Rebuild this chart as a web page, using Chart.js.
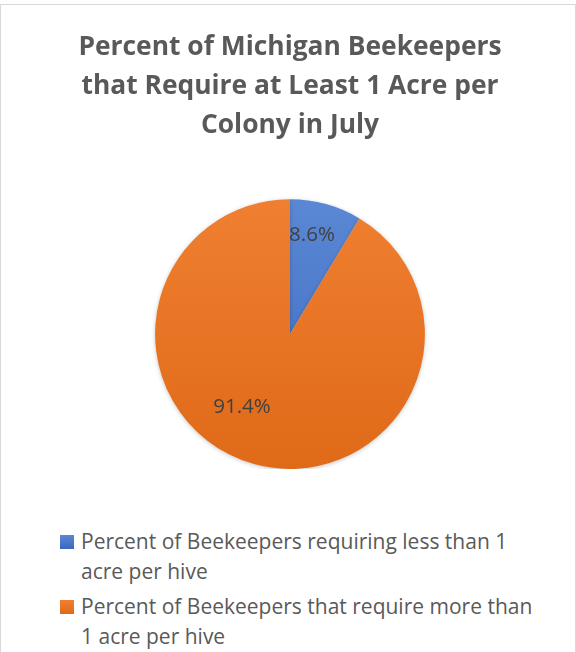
<!DOCTYPE html>
<html>
<head>
<meta charset="utf-8">
<script src="https://cdn.jsdelivr.net/npm/chart.js@4/dist/chart.umd.min.js"></script>
<style>
  html, body { margin: 0; padding: 0; background: #fff; }
  body { width: 576px; height: 652px; position: relative; overflow: hidden; font-family: "Open Sans", sans-serif; }
  .frame { position: absolute; left: 0; top: 4px; width: 576px; height: 660px; box-sizing: border-box; border: 1px solid #d9d9d9; }
  .chart-box { position: absolute; left: 0; top: 0; width: 576px; height: 469px; }
  #legend { position: absolute; left: 60px; top: 526px; width: 500px; }
  .lg-item { position: relative; padding-left: 21px; width: 452px; font-size: 21px; line-height: 30px; color: #595959; margin-bottom: 5px; }
  .lg-box { position: absolute; left: 0; top: 9px; width: 14px; height: 14px; }
</style>
</head>
<body>
<div class="frame"></div>
<div class="chart-box"><canvas id="pie"></canvas></div>
<div id="legend"></div>
<script>
  const titleLines = ['Percent of Michigan Beekeepers', 'that Require at Least 1 Acre per', 'Colony in July'];
  const categories = [
    'Percent of Beekeepers requiring less than 1 acre per hive',
    'Percent of Beekeepers that require more than 1 acre per hive'
  ];
  const values = [8.6, 91.4];
  const valueLabels = ['8.6%', '91.4%'];

  // top / bottom shades, Office style gradient
  const sliceColors = [['#5b88d4', '#3b68be'], ['#f07f31', '#df6a18']];
  const flatColors = ['#4472c4', '#ed7d31'];

  // where the % labels sit: angle shift (deg) and fraction of radius
  const labelPlace = [{ shift: -3, frac: 0.755 }, { shift: 18, frac: 0.645 }];

  function sliceFill(ctx) {
    const chart = ctx.chart;
    const area = chart.chartArea;
    const i = ctx.dataIndex;
    if (!area) return flatColors[i];
    const g = chart.ctx.createLinearGradient(0, area.top, 0, area.bottom);
    g.addColorStop(0, sliceColors[i][0]);
    g.addColorStop(1, sliceColors[i][1]);
    return g;
  }

  const pieShadow = {
    id: 'pieShadow',
    beforeDatasetDraw(chart) {
      const c = chart.ctx;
      c.save();
      c.shadowColor = 'rgba(0,0,0,0.22)';
      c.shadowBlur = 4;
      c.shadowOffsetY = 1;
    },
    afterDatasetDraw(chart) {
      chart.ctx.restore();
    }
  };

  const pctLabels = {
    id: 'pctLabels',
    afterDatasetsDraw(chart) {
      const c = chart.ctx;
      const meta = chart.getDatasetMeta(0);
      c.save();
      c.font = '20.5px "Open Sans", sans-serif';
      c.fillStyle = '#404040';
      c.textAlign = 'center';
      c.textBaseline = 'middle';
      meta.data.forEach((arc, i) => {
        const p = arc.getProps(['x', 'y', 'startAngle', 'endAngle', 'outerRadius'], true);
        const a = (p.startAngle + p.endAngle) / 2 + labelPlace[i].shift * Math.PI / 180;
        const r = p.outerRadius * labelPlace[i].frac;
        c.fillText(valueLabels[i], p.x + Math.cos(a) * r, p.y + Math.sin(a) * r);
      });
      c.restore();
    }
  };

  new Chart(document.getElementById('pie'), {
    type: 'pie',
    data: {
      labels: categories,
      datasets: [{
        data: values,
        backgroundColor: sliceFill,
        borderWidth: 0
      }]
    },
    options: {
      responsive: true,
      maintainAspectRatio: false,
      animation: false,
      layout: { padding: { left: 4, right: 0, top: 0, bottom: 0 } },
      plugins: {
        legend: { display: false },
        tooltip: { enabled: false },
        title: {
          display: true,
          text: titleLines,
          color: '#595959',
          font: { family: '"Open Sans", sans-serif', size: 26.4, weight: 'bold', lineHeight: 1.48 },
          padding: { top: 28, bottom: 54 }
        }
      }
    },
    plugins: [pieShadow, pctLabels]
  });

  const legendEl = document.getElementById('legend');
  legendEl.innerHTML = categories.map((name, i) =>
    `<div class="lg-item"><span class="lg-box" style="background:linear-gradient(${sliceColors[i][0]}, ${sliceColors[i][1]})"></span>${name}</div>`
  ).join('');
</script>
</body>
</html>
